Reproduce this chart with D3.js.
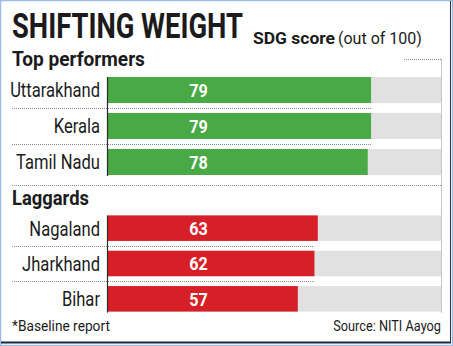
<!DOCTYPE html>
<html>
<head>
<meta charset="utf-8">
<script src="https://cdn.jsdelivr.net/npm/d3@7"></script>
<style>
  html, body { margin: 0; padding: 0; background: #fff; }
  svg { display: block; font-family: Roboto, "Noto Sans", sans-serif; }
</style>
</head>
<body>
<svg id="chart" width="453" height="346"></svg>
<script>
// SDG index scores (out of 100)
const topStates = ["Uttarakhand", "Kerala", "Tamil Nadu"];
const topScores = [79, 79, 78];
const lagStates = ["Nagaland", "Jharkhand", "Bihar"];
const lagScores = [63, 62, 57];
const scoreMax = 100;

const title = "SHIFTING WEIGHT";
const subtitleBold = "SDG score";
const subtitleRest = "(out of 100)";
const topHeading = "Top performers";
const lagHeading = "Laggards";
const footNote = "*Baseline report";
const sourceNote = "Source: NITI Aayog";

const W = 453, H = 346;
const green = "#49aa45", red = "#d71f27", track = "#e1e1e1";
const ink = "#1b1b1b";
const svg = d3.select("#chart");

// squeeze text horizontally around its anchor x for a condensed look
function squeeze(node, ratio) {
  const ax = +node.getAttribute("x");
  d3.select(node).attr("transform", `translate(${ax},0) scale(${ratio},1) translate(${-ax},0)`);
}
function condense(sel, ratio) {
  sel.each(function () { squeeze(this, ratio); });
}
function fitTo(sel, width) {
  sel.each(function () { squeeze(this, width / this.getComputedTextLength()); });
}

// frame
svg.append("rect").attr("x", 0.5).attr("y", 0.5).attr("width", W - 1).attr("height", H - 1)
  .attr("fill", "none").attr("stroke", "#9dbde4").attr("stroke-width", 1.5);
svg.append("line").attr("x1", 1).attr("x2", 451).attr("y1", 342.5).attr("y2", 342.5)
  .attr("stroke", "#1c2840").attr("stroke-width", 2);
svg.append("line").attr("x1", 450.5).attr("x2", 450.5).attr("y1", 1).attr("y2", 343)
  .attr("stroke", "#2a3550").attr("stroke-width", 1);

const x = d3.scaleLinear().domain([0, scoreMax]).range([108, 441]);

// headings
fitTo(svg.append("text").attr("x", 12).attr("y", 38).text(title)
  .attr("font-size", 35).attr("font-weight", 700).attr("fill", ink), 231);
fitTo(svg.append("text").attr("x", 253).attr("y", 44).text(subtitleBold)
  .attr("font-size", 16).attr("font-weight", 700).attr("fill", ink), 82);
fitTo(svg.append("text").attr("x", 338).attr("y", 44).text(subtitleRest)
  .attr("font-size", 16).attr("font-weight", 400).attr("fill", ink), 84);

// bracket guide on the right
const dotted = { stroke: "#8c8c8c", "stroke-width": 1, "stroke-dasharray": "1,1" };
function dottedLine(x1, y1, x2, y2) {
  const l = svg.append("line").attr("x1", x1).attr("y1", y1).attr("x2", x2).attr("y2", y2);
  Object.entries(dotted).forEach(([k, v]) => l.attr(k, v));
  return l;
}
dottedLine(404, 59.5, 441.5, 59.5);
dottedLine(441.5, 59.5, 441.5, 313);

function drawGroup(heading, headingY, headingWidth, states, scores, color, yRange) {
  fitTo(svg.append("text").attr("x", 12).attr("y", headingY).text(heading)
    .attr("font-size", 20).attr("font-weight", 700).attr("fill", ink), headingWidth);

  const y = d3.scaleBand().domain(states).range(yRange).paddingInner(0.278).paddingOuter(0.139);
  const rows = states.map((s, i) => ({ state: s, score: scores[i] }));
  const g = svg.append("g");

  // separators between rows, reaching the middle row's bar end
  const mid = rows[Math.floor(rows.length / 2)];
  for (let i = 1; i < rows.length; i++) {
    const yy = Math.round(y(states[i]) - y.step() * y.paddingInner() / 2) + 0.5;
    dottedLine(12, yy, x(mid.score), yy);
  }

  g.selectAll("rect.track").data(rows).join("rect").attr("class", "track")
    .attr("x", x(0)).attr("y", d => y(d.state))
    .attr("width", x(scoreMax) - x(0)).attr("height", y.bandwidth()).attr("fill", track);

  g.selectAll("rect.bar").data(rows).join("rect").attr("class", "bar")
    .attr("x", x(0)).attr("y", d => y(d.state))
    .attr("width", d => x(d.score) - x(0)).attr("height", y.bandwidth()).attr("fill", color);

  g.selectAll("text.name").data(rows).join("text").attr("class", "name")
    .attr("x", 100).attr("y", d => y(d.state) + y.bandwidth() / 2 + 7.5)
    .attr("text-anchor", "end").attr("font-size", 19.5).attr("fill", ink)
    .text(d => d.state).call(condense, 0.85);

  g.selectAll("text.value").data(rows).join("text").attr("class", "value")
    .attr("x", 198.5).attr("y", d => y(d.state) + y.bandwidth() / 2 + 7)
    .attr("text-anchor", "middle").attr("font-size", 19).attr("font-weight", 700)
    .attr("fill", "#fff").text(d => d.score).call(condense, 0.85);

  // axis spine
  const [r0, r1] = [y(states[0]), y(states[states.length - 1]) + y.bandwidth()];
  g.append("line").attr("x1", x(0) - 0.5).attr("x2", x(0) - 0.5).attr("y1", r0).attr("y2", r1 + 1)
    .attr("stroke", "#2b2b2b").attr("stroke-width", 1.2);
}

drawGroup(topHeading, 66.5, 133, topStates, topScores, green, [72, 180]);
dottedLine(12, 185.5, 441.5, 185.5);
drawGroup(lagHeading, 205.5, 77, lagStates, lagScores, red, [210.5, 316.5]);

// footer
fitTo(svg.append("text").attr("x", 12).attr("y", 331.5).text(footNote)
  .attr("font-size", 14).attr("fill", ink), 98);
fitTo(svg.append("text").attr("x", 441).attr("y", 331.5).attr("text-anchor", "end").text(sourceNote)
  .attr("font-size", 14).attr("fill", ink), 108);
</script>
</body>
</html>
